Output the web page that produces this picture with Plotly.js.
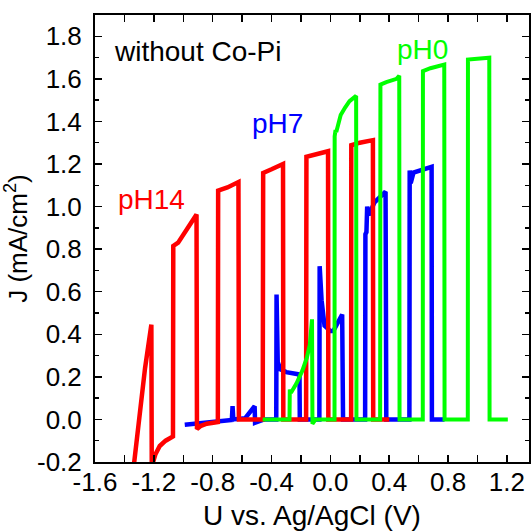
<!DOCTYPE html>
<html>
<head>
<meta charset="utf-8">
<script src="https://cdn.plot.ly/plotly-3.0.1.min.js"></script>
<style>
html,body{margin:0;padding:0;background:#fff;}
#chart{width:532px;height:531px;}
</style>
</head>
<body>
<div id="chart"></div>
<script>
// pH14 (red)
const ph14U = [-1.35, -1.30, -1.26, -1.217, -1.214, -1.205, -1.19, -1.16, -1.12, -1.07,
  -1.068, -1.035, -0.97, -0.91, -0.907, -0.88, -0.84, -0.765,
  -0.763, -0.70, -0.625, -0.622, -0.46,
  -0.457, -0.40, -0.322, -0.32, -0.165,
  -0.163, -0.10, -0.016, -0.014, 0.141,
  0.142, 0.20, 0.289, 0.291, 0.40];
const ph14J = [-0.30, 0.02, 0.24, 0.445, -0.30, -0.20, -0.165, -0.125, -0.10, -0.08,
  0.815, 0.83, 0.90, 0.963, -0.045, -0.03, -0.02, -0.012,
  1.075, 1.09, 1.115, 0.0, 0.0,
  1.158, 1.175, 1.20, 0.0, 0.0,
  1.234, 1.245, 1.26, 0.0, 0.0,
  1.288, 1.30, 1.312, 0.0, 0.0];

// pH7 (blue)
const ph7U = [-0.99, -0.80, -0.67, -0.665, -0.66, -0.58, -0.525, -0.515, -0.512, -0.45,
  -0.368, -0.366, -0.358, -0.34, -0.30, -0.21, -0.208, -0.075,
  -0.073, -0.06, -0.04, 0.0, 0.02, 0.08, 0.086, 0.236,
  0.238, 0.245, 0.25, 0.26, 0.30, 0.375, 0.38, 0.537,
  0.539, 0.546, 0.565, 0.688, 0.69, 0.776];
const ph7J = [-0.025, -0.01, -0.003, 0.062, 0.0, 0.005, 0.06, 0.062, -0.016, 0.0,
  0.0, 0.587, 0.27, 0.235, 0.222, 0.211, 0.0, 0.0,
  0.72, 0.56, 0.44, 0.415, 0.415, 0.493, 0.0, 0.0,
  0.87, 0.88, 1.0, 0.96, 1.02, 1.07, 0.0, 0.0,
  1.17, 1.11, 1.16, 1.187, 0.0, 0.0];

// pH0 (green)
const ph0U = [-0.46, -0.278, -0.276, -0.268, -0.23, -0.19, -0.16, -0.14, -0.125, -0.122, -0.10, 0.028,
  0.029, 0.035, 0.04, 0.07, 0.10, 0.13, 0.175, 0.177, 0.338,
  0.340, 0.38, 0.45, 0.468, 0.47, 0.628,
  0.629, 0.68, 0.774, 0.776, 0.934,
  0.935, 1.00, 1.08, 1.082, 1.206];
const ph0J = [0.0, 0.0, 0.14, 0.125, 0.17, 0.23, 0.29, 0.35, 0.47, -0.02, 0.0, 0.0,
  1.33, 1.36, 1.35, 1.43, 1.465, 1.495, 1.52, 0.0, 0.0,
  1.573, 1.585, 1.60, 1.615, 0.0, 0.0,
  1.636, 1.65, 1.667, 0.0, 0.0,
  1.691, 1.695, 1.699, 0.0, 0.0];

// tick labels
const xTickVals = [-1.6, -1.2, -0.8, -0.4, 0.0, 0.4, 0.8, 1.2];
const xTickText = ['-1.6', '-1.2', '-0.8', '-0.4', '0.0', '0.4', '0.8', '1.2'];
const xMinorVals = [-1.4, -1.0, -0.6, -0.2, 0.2, 0.6, 1.0];
const yTickVals = [-0.2, 0.0, 0.2, 0.4, 0.6, 0.8, 1.0, 1.2, 1.4, 1.6, 1.8];
const yTickText = ['-0.2', '0.0', '0.2', '0.4', '0.6', '0.8', '1.0', '1.2', '1.4', '1.6', '1.8'];
const yMinorVals = [-0.1, 0.1, 0.3, 0.5, 0.7, 0.9, 1.1, 1.3, 1.5, 1.7];

const FONT = 'Liberation Sans, Arial, sans-serif';

const traces = [
  {x: ph7U, y: ph7J, mode: 'lines', name: 'pH7', line: {color: '#0000FF', width: 4.5}},
  {x: ph14U, y: ph14J, mode: 'lines', name: 'pH14', line: {color: '#FF0000', width: 4.5}},
  {x: ph0U, y: ph0J, mode: 'lines', name: 'pH0', line: {color: '#00FF00', width: 4}}
];

const axisCommon = {
  showgrid: false, zeroline: false,
  showline: true, linecolor: '#000', linewidth: 2, mirror: 'ticks',
  ticks: 'inside', ticklen: 7, tickwidth: 1.5, tickcolor: '#000',
  tickfont: {family: FONT, size: 26, color: '#000'},
  tickmode: 'array'
};

const layout = {
  width: 532, height: 531,
  margin: {l: 95, r: 3, t: 15, b: 69},
  paper_bgcolor: '#fff', plot_bgcolor: '#fff',
  showlegend: false,
  font: {family: FONT, color: '#000'},
  xaxis: Object.assign({}, axisCommon, {
    range: [-1.6001, 1.35],
    tickvals: xTickVals, ticktext: xTickText,
    ticklabelstandoff: -4,
    minor: {tickmode: 'array', tickvals: xMinorVals, ticks: 'inside', ticklen: 7, tickwidth: 1.5, tickcolor: '#000'},
    title: {text: 'U vs. Ag/AgCl (V)', font: {family: FONT, size: 28, color: '#000'}, standoff: 10}
  }),
  yaxis: Object.assign({}, axisCommon, {
    range: [-0.2001, 1.9],
    tickvals: yTickVals, ticktext: yTickText,
    ticklabelstandoff: 6,
    minor: {tickmode: 'array', tickvals: yMinorVals, ticks: 'inside', ticklen: 4, tickwidth: 1.5, tickcolor: '#000'},
    title: {text: 'J (mA/cm<sup>2</sup>)', font: {family: FONT, size: 26, color: '#000'}, standoff: 4}
  }),
  annotations: [
    {x: -1.486, y: 1.728, xref: 'x', yref: 'y', xanchor: 'left', yanchor: 'middle', showarrow: false,
     text: 'without Co-Pi', font: {family: FONT, size: 28, color: '#000'}},
    {x: -1.216, y: 1.033, xref: 'x', yref: 'y', xanchor: 'center', yanchor: 'middle', showarrow: false,
     text: 'pH14', font: {family: FONT, size: 28, color: '#FF0000'}},
    {x: -0.362, y: 1.39, xref: 'x', yref: 'y', xanchor: 'center', yanchor: 'middle', showarrow: false,
     text: 'pH7', font: {family: FONT, size: 28, color: '#0000FF'}},
    {x: 0.629, y: 1.738, xref: 'x', yref: 'y', xanchor: 'center', yanchor: 'middle', showarrow: false,
     text: 'pH0', font: {family: FONT, size: 28, color: '#00FF00'}}
  ]
};

Plotly.newPlot('chart', traces, layout, {staticPlot: true, displayModeBar: false});
</script>
</body>
</html>
